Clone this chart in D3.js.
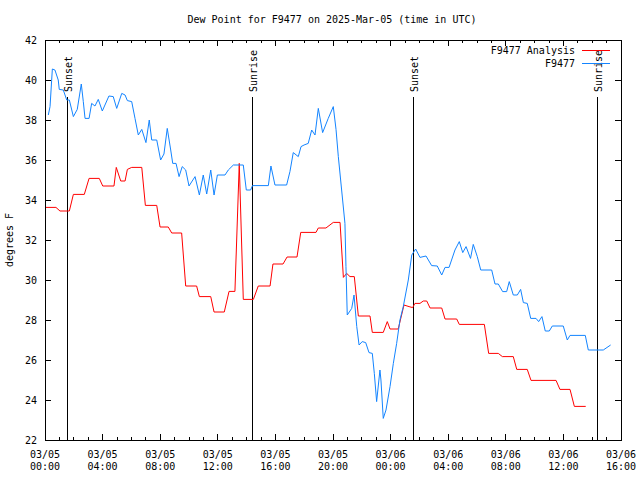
<!DOCTYPE html>
<html>
<head>
<meta charset="utf-8">
<script src="https://cdn.jsdelivr.net/npm/d3@7"></script>
<style>
  body { margin: 0; background: #fff; }
  text { font-family: "DejaVu Sans Mono", monospace; font-size: 10px; fill: #000; }
</style>
</head>
<body>
<div id="chart"></div>
<script>
// hours since 2025-03-05 00:00 UTC
const analysisHours = [0.07, 0.76, 1.04, 1.69, 1.97, 2.73, 3.06, 3.77, 4.01, 4.79, 4.95, 5.26, 5.56, 5.72, 6.02, 6.72, 6.97, 7.76, 7.99, 8.56, 8.80, 9.49, 9.77, 10.53, 10.72, 11.51, 11.74, 12.45, 12.78, 13.19, 13.49, 13.77, 14.47, 14.81, 15.63, 15.83, 16.53, 16.81, 17.50, 17.76, 18.82, 18.98, 19.51, 20.02, 20.49, 20.72, 20.95, 21.18, 21.48, 21.76, 22.57, 22.73, 23.49, 23.77, 23.96, 24.53, 24.93, 25.28, 25.53, 25.69, 26.04, 26.27, 26.51, 26.74, 27.55, 27.78, 28.59, 28.77, 30.51, 30.81, 31.48, 31.76, 32.52, 32.76, 33.49, 33.75, 35.49, 35.76, 36.46, 36.76, 37.55];
const analysisDew = [33.63, 33.63, 33.45, 33.45, 34.28, 34.28, 35.08, 35.08, 34.7, 34.7, 35.63, 34.95, 34.95, 35.53, 35.63, 35.63, 33.73, 33.73, 32.65, 32.65, 32.35, 32.35, 29.7, 29.7, 29.17, 29.17, 28.4, 28.4, 29.43, 29.43, 35.83, 29.03, 29.03, 29.7, 29.7, 30.8, 30.8, 31.15, 31.15, 32.38, 32.38, 32.6, 32.6, 32.88, 32.88, 30.13, 30.33, 30.17, 30.17, 28.2, 28.2, 27.38, 27.38, 27.92, 27.55, 27.55, 28.75, 28.67, 28.62, 28.83, 28.83, 28.95, 28.95, 28.6, 28.6, 28.05, 28.05, 27.78, 27.78, 26.33, 26.33, 26.17, 26.17, 25.53, 25.53, 24.98, 24.98, 24.53, 24.53, 23.68, 23.68];

const stationHours = [0.23, 0.35, 0.51, 0.69, 0.92, 0.99, 1.27, 1.51, 1.69, 1.97, 2.24, 2.52, 2.66, 2.78, 3.06, 3.24, 3.47, 3.70, 3.98, 4.44, 4.74, 4.98, 5.33, 5.56, 5.72, 6.02, 6.25, 6.48, 6.72, 7.01, 7.24, 7.41, 7.76, 8.03, 8.26, 8.49, 8.73, 8.87, 9.10, 9.31, 9.53, 9.77, 10.0, 10.42, 10.72, 10.99, 11.23, 11.51, 11.74, 11.97, 12.5, 12.73, 13.08, 13.77, 13.98, 14.28, 14.41, 15.51, 15.69, 15.97, 16.78, 17.01, 17.24, 17.59, 17.78, 17.99, 18.28, 18.52, 18.75, 18.98, 19.28, 19.67, 20.02, 20.21, 20.37, 20.60, 20.83, 20.90, 20.99, 21.30, 21.46, 21.65, 21.81, 22.03, 22.27, 22.50, 22.73, 22.87, 23.03, 23.26, 23.33, 23.49, 23.68, 23.96, 24.19, 24.42, 24.65, 24.88, 25.23, 25.47, 25.74, 26.04, 26.46, 26.85, 27.24, 27.55, 27.78, 28.06, 28.47, 28.77, 29.01, 29.24, 29.55, 29.74, 30.02, 30.26, 31.02, 31.25, 31.48, 31.78, 32.06, 32.24, 32.52, 32.80, 33.03, 33.22, 33.49, 33.73, 34.10, 34.28, 34.51, 34.74, 35.02, 35.23, 35.99, 36.27, 36.46, 37.52, 37.73, 38.77, 39.28];
const stationDew = [38.25, 38.67, 40.55, 40.5, 40.0, 39.53, 39.5, 39.0, 39.0, 38.17, 38.53, 39.8, 38.92, 38.08, 38.08, 38.83, 38.7, 39.03, 38.45, 39.2, 39.17, 38.58, 39.33, 39.25, 38.97, 38.92, 38.08, 37.25, 37.53, 36.87, 38.0, 37.0, 37.0, 36.0, 36.3, 37.58, 36.5, 35.83, 35.83, 35.17, 35.67, 35.5, 34.7, 35.17, 34.25, 35.25, 34.3, 35.5, 34.25, 35.25, 35.25, 35.5, 35.75, 35.75, 34.5, 34.5, 34.72, 34.72, 35.7, 34.75, 34.75, 35.42, 36.37, 36.17, 36.67, 36.75, 36.83, 37.5, 37.25, 38.58, 37.37, 38.08, 38.67, 37.53, 36.17, 34.5, 32.83, 30.67, 28.25, 28.58, 29.25, 27.67, 26.75, 26.92, 26.87, 26.37, 26.33, 25.33, 23.92, 25.5, 25.0, 23.08, 23.5, 24.67, 25.83, 26.83, 28.0, 28.67, 30.0, 31.25, 31.55, 31.13, 31.2, 30.72, 30.7, 30.25, 30.63, 30.63, 31.5, 31.92, 31.37, 31.67, 31.08, 31.78, 31.17, 30.5, 30.5, 29.8, 29.8, 29.42, 29.42, 29.92, 29.25, 29.25, 29.53, 28.87, 28.83, 28.08, 28.08, 27.92, 28.17, 27.45, 27.45, 27.7, 27.7, 27.0, 27.23, 27.23, 26.5, 26.5, 26.75];

const sunLabels = ["Sunset", "Sunrise", "Sunset", "Sunrise"];
const sunHours = [1.53, 14.38, 25.56, 38.33];

const seriesNames = ["F9477 Analysis", "F9477"];
const seriesColors = ["#ff0000", "#1384ff"];

const width = 640, height = 480;
const margin = { top: 40, right: 19, bottom: 40, left: 45 };
const base = Date.UTC(2025, 2, 5);
const toDate = h => new Date(base + h * 3600e3);

const svg = d3.select("#chart").append("svg")
  .attr("width", width)
  .attr("height", height);

const x = d3.scaleUtc()
  .domain([toDate(0), toDate(40)])
  .range([margin.left, width - margin.right]);
const y = d3.scaleLinear()
  .domain([22, 42])
  .range([height - margin.bottom, margin.top]);

const x0 = margin.left, x1 = width - margin.right;
const y0 = height - margin.bottom, y1 = margin.top;

// ticks
const g = svg.append("g").attr("shape-rendering", "crispEdges").attr("stroke", "#000");
const hourTicks = d3.range(0, 41).map(toDate);
hourTicks.forEach((d, i) => {
  const len = i % 4 === 0 ? 6 : 3;
  g.append("line").attr("x1", x(d)).attr("x2", x(d)).attr("y1", y0).attr("y2", y0 - len);
  g.append("line").attr("x1", x(d)).attr("x2", x(d)).attr("y1", y1).attr("y2", y1 + len);
});
y.ticks(10).forEach(v => {
  g.append("line").attr("x1", x0).attr("x2", x0 + 6).attr("y1", y(v)).attr("y2", y(v));
  g.append("line").attr("x1", x1).attr("x2", x1 - 6).attr("y1", y(v)).attr("y2", y(v));
  svg.append("text").attr("x", x0 - 8).attr("y", y(v)).attr("dy", "0.35em")
    .attr("text-anchor", "end").text(v);
});

const fmtDay = d3.utcFormat("%m/%d"), fmtTime = d3.utcFormat("%H:%M");
x.ticks(d3.utcHour.every(4)).forEach(d => {
  const t = svg.append("text").attr("text-anchor", "middle");
  t.append("tspan").attr("x", x(d)).attr("y", 458).text(fmtDay(d));
  t.append("tspan").attr("x", x(d)).attr("y", 470).text(fmtTime(d));
});

// sunrise / sunset
sunHours.forEach((h, i) => {
  const sx = Math.round(x(toDate(h))) + 0.5;
  svg.append("line").attr("x1", sx).attr("x2", sx).attr("y1", 97).attr("y2", y0)
    .attr("stroke", "#000").attr("shape-rendering", "crispEdges");
  svg.append("text")
    .attr("transform", `translate(${sx + 4},92) rotate(-90)`)
    .attr("text-anchor", "start")
    .text(sunLabels[i]);
});

const line = d3.line().x(d => x(toDate(d[0]))).y(d => y(d[1]));
const series = [
  d3.zip(analysisHours, analysisDew),
  d3.zip(stationHours, stationDew)
];
series.forEach((s, i) => {
  svg.append("path").datum(s)
    .attr("fill", "none")
    .attr("stroke", seriesColors[i])
    .attr("stroke-width", 1)
    .attr("d", line);
});

// frame
svg.append("rect").attr("x", x0 + 0.5).attr("y", y1 + 0.5)
  .attr("width", x1 - x0).attr("height", y0 - y1)
  .attr("fill", "none").attr("stroke", "#000").attr("shape-rendering", "crispEdges");

// legend
seriesNames.forEach((name, i) => {
  const ly = 50 + i * 13;
  svg.append("text").attr("x", 575).attr("y", ly).attr("dy", "0.35em")
    .attr("text-anchor", "end").text(name);
  svg.append("line").attr("x1", 582).attr("x2", 610).attr("y1", ly + 0.5).attr("y2", ly + 0.5)
    .attr("stroke", seriesColors[i]).attr("shape-rendering", "crispEdges");
});

svg.append("text").attr("x", 332).attr("y", 23).attr("text-anchor", "middle")
  .text("Dew Point for F9477 on 2025-Mar-05 (time in UTC)");
svg.append("text").attr("transform", "translate(13,240) rotate(-90)")
  .attr("text-anchor", "middle").text("degrees F");
</script>
</body>
</html>
